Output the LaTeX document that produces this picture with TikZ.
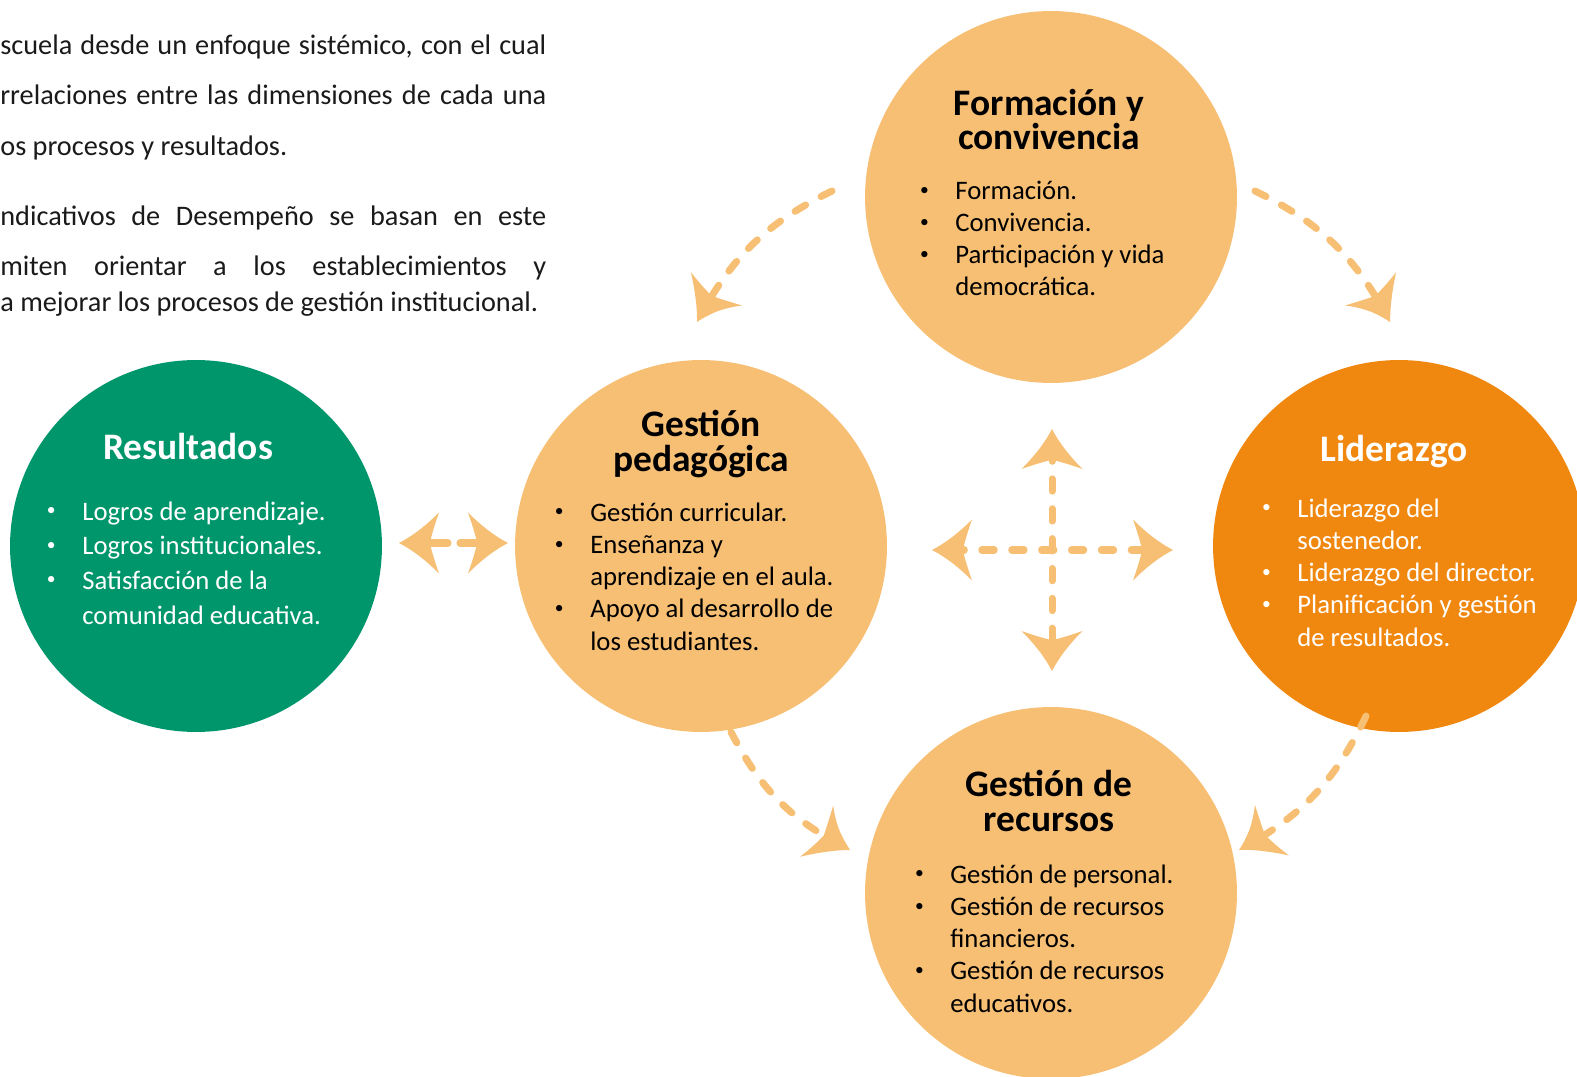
\documentclass[tikz,border=0pt]{standalone}
\usepackage{fontspec}
\setmainfont{Carlito}
\usetikzlibrary{arrows.meta,bending}

\definecolor{claro}{HTML}{F7BF74}
\definecolor{verde}{HTML}{00966C}
\definecolor{naranjo}{HTML}{F0870F}
\definecolor{texto}{HTML}{1A1A1A}

\newcommand{\bul}{\makebox[0.76cm][l]{\hspace*{1.5pt}\raisebox{0.35ex}{\fontsize{10}{10}\selectfont\textbullet}}}
\newcommand{\sig}{\hspace*{0.76cm}}

% punta de flecha con lados curvos
\pgfdeclarearrow{
  name=Garra,
  parameters={\the\pgfarrowlength,\the\pgfarrowwidth},
  setup code={
    \pgfarrowssettipend{0pt}
    \pgfarrowssetbackend{-\pgfarrowlength}
    \pgfarrowssetlineend{-0.5\pgfarrowlength}
    \pgfarrowssetvisualbackend{-0.77\pgfarrowlength}
    \pgfarrowshullpoint{0pt}{0pt}
    \pgfarrowsupperhullpoint{-\pgfarrowlength}{0.5\pgfarrowwidth}
    \pgfarrowssavethe\pgfarrowlength
    \pgfarrowssavethe\pgfarrowwidth
  },
  drawing code={
    \pgfpathmoveto{\pgfpointorigin}
    \pgfpathquadraticcurveto{\pgfpoint{-0.5\pgfarrowlength}{0.17\pgfarrowwidth}}{\pgfpoint{-\pgfarrowlength}{0.5\pgfarrowwidth}}
    \pgfpathquadraticcurveto{\pgfpoint{-0.84\pgfarrowlength}{0.2\pgfarrowwidth}}{\pgfpoint{-0.77\pgfarrowlength}{0pt}}
    \pgfpathquadraticcurveto{\pgfpoint{-0.84\pgfarrowlength}{-0.2\pgfarrowwidth}}{\pgfpoint{-\pgfarrowlength}{-0.5\pgfarrowwidth}}
    \pgfpathquadraticcurveto{\pgfpoint{-0.5\pgfarrowlength}{-0.17\pgfarrowwidth}}{\pgfpointorigin}
    \pgfpathclose
    \pgfusepathqfill
  },
  defaults={length=0.8cm,width=1.22cm}
}

\begin{document}
\begin{tikzpicture}[x=0.02cm,y=-0.02cm,
    circulo/.style={circle,minimum size=7.44cm,inner sep=0},
    titulo/.style={anchor=base,align=center,inner sep=0,font=\fontsize{21.3}{19.9}\selectfont\bfseries},
    lista/.style={anchor=base west,align=left,inner sep=0,font=\fontsize{15.2}{18.3}\selectfont},
    parrafo/.style={anchor=base west,inner sep=0,text=texto,font=\fontsize{16.1}{18}\selectfont},
    punta/.style={-{Garra[bend]}},
    flecha/.style={draw=claro,line width=4pt,line cap=round,dash pattern=on 7pt off 10pt,punta},
]
\useasboundingbox (0,0) rectangle (1577,1077);
\clip (0,0) rectangle (1577,1077);

% texto de fondo
\node[parrafo] (p1) at (0,55) {\makebox[10.92cm][s]{scuela desde un enfoque sistémico, con el cual}};
\node[parrafo] (p2) at (0,105) {\makebox[10.92cm][s]{rrelaciones entre las dimensiones de cada una}};
\node[parrafo] (p3) at (0,156) {os procesos y resultados.};
\node[parrafo] (p4) at (0,226) {\makebox[10.92cm][s]{ndicativos de Desempeño se basan en este}};
\node[parrafo] (p5) at (0,276) {\makebox[10.92cm][s]{miten orientar a los establecimientos y}};
\node[parrafo] (p6) at (0,312) {a mejorar los procesos de gestión institucional.};

% circulos
\node[circulo,fill=verde] (res) at (196,546) {};
\node[circulo,fill=claro] (ped) at (701,546) {};
\node[circulo,fill=claro] (form) at (1051,197) {};
\node[circulo,fill=naranjo] (lid) at (1399,546) {};
\node[circulo,fill=claro] (rec) at (1051,893) {};

% Resultados
\node[titulo,text=white] (tres) at (188,459) {Resultados};
\node[lista,text=white,font=\fontsize{15.2}{19.7}\selectfont] (lres) at (44,624)
    {\bul Logros de aprendizaje.\\\bul Logros institucionales.\\\bul Satisfacción de la\\\sig comunidad educativa.};

% Gestion pedagogica
\node[titulo] (tped) at (701,471) {Gestión\\pedagógica};
\node[lista] (lped) at (552,650)
    {\bul Gestión curricular.\\\bul Enseñanza y\\\sig aprendizaje en el aula.\\\bul Apoyo al desarrollo de\\\sig los estudiantes.};

% Formacion y convivencia
\node[titulo] (tform) at (1049,150) {Formación y\\convivencia};
\node[lista] (lform) at (917,296)
    {\bul Formación.\\\bul Convivencia.\\\bul Participación y vida\\\sig democrática.};

% Liderazgo
\node[titulo,text=white] (tlid) at (1394,461) {Liderazgo};
\node[lista,text=white] (llid) at (1259,646)
    {\bul Liderazgo del\\\sig sostenedor.\\\bul Liderazgo del director.\\\bul Planificación y gestión\\\sig de resultados.};

% Gestion de recursos
\node[titulo] (trec) at (1049,831) {Gestión de\\recursos};
\node[lista] (lrec) at (912,1012)
    {\bul Gestión de personal.\\\bul Gestión de recursos\\\sig financieros.\\\bul Gestión de recursos\\\sig educativos.};

% flechas
\coordinate (formO) at (832,191);
\coordinate (pedN) at (697,322);
\coordinate (formE) at (1255,191);
\coordinate (lidN) at (1390,322);
\coordinate (lidS) at (1366,716);
\coordinate (recE) at (1239,850);
\coordinate (pedS) at (731,732);
\coordinate (recO) at (850,850);
\draw[flecha] (formO) to[bend right=18] (pedN);
\draw[flecha] (formE) to[bend left=18] (lidN);
\draw[flecha] (lidS) to[bend left=18] (recE);
\draw[flecha] (pedS) to[bend right=18] (recO);

\coordinate (resE) at (399,543);
\coordinate (pedO) at (508,543);
\coordinate (medA) at (448,543);
\coordinate (medB) at (460,543);
\draw[draw=claro,line width=4pt,line cap=round,punta] (medA) -- (resE);
\draw[draw=claro,line width=4pt,line cap=round,punta] (medB) -- (pedO);

\coordinate (crO) at (932,550);
\coordinate (crE) at (1173,550);
\coordinate (crN) at (1052,429);
\coordinate (crS) at (1052,671);
\draw[flecha,{Garra}-{Garra}] (crO) -- (crE);
\draw[flecha,{Garra}-{Garra}] (crN) -- (crS);
\end{tikzpicture}
\end{document}
